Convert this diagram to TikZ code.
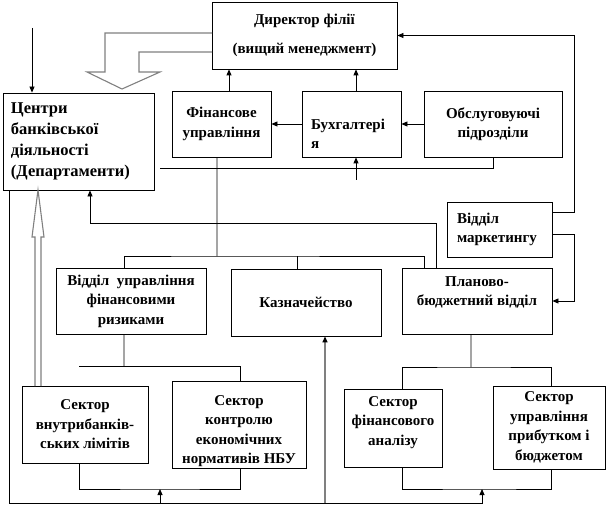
\documentclass[tikz,border=0pt]{standalone}
\usepackage{fontspec}
\setmainfont{Liberation Serif}
\usetikzlibrary{arrows.meta}
\definecolor{grl}{RGB}{128,128,128}
\begin{document}
\begin{tikzpicture}[x=1bp,y=-1bp,
  box/.style={draw,line width=0.8bp,inner sep=2bp,align=center,
    font=\fontsize{15bp}{19.5bp}\selectfont\bfseries},
  ln/.style={line width=0.8bp},
  arr/.style={ln,-{Triangle[length=6bp,width=5bp]}},
  hollow/.style={draw=grl,line width=1.1bp}]
\useasboundingbox (0,0) rectangle (612,513);
% boxes
\node[box,minimum width=185bp,minimum height=67bp] (dir) at (304.5,35.5) {Директор філії\\[9bp](вищий менеджмент)};
\node[box,minimum width=151bp,minimum height=97bp,align=left,text width=135bp,
  font=\fontsize{16.5bp}{21bp}\selectfont\bfseries] (cent) at (78.5,141.5) {Центри\\банківської\\діяльності\\(Департаменти)};
\node[box,minimum width=99bp,minimum height=66bp] (fin) at (221.5,124) {Фінансове\\управління};
\node[box,minimum width=99bp,minimum height=66bp,align=left,text width=81bp] (bux) at (351.5,124) {\rule{0pt}{30bp}Бухгалтері\\я};
\node[box,minimum width=138bp,minimum height=66bp] (obs) at (493,124) {Обслуговуючі\\підрозділи};
\node[box,minimum width=105bp,minimum height=55bp,align=left,text width=85bp] (mark) at (499.5,229.5) {Відділ\\маркетингу};
\node[box,minimum width=150bp,minimum height=66bp] (plan) at (477,301) {Планово-\\бюджетний відділ\rule[-20bp]{0pt}{1bp}};
\node[box,minimum width=150bp,minimum height=67bp] (kazn) at (306,302.5) {Казначейство};
\node[box,minimum width=150bp,minimum height=66bp] (vidd) at (131,301) {Відділ\ \ управління\\фінансовими\\ризиками};
\node[box,minimum width=126bp,minimum height=77bp] (svn) at (85,424.5) {Сектор\\внутрибанків-\\ських лімітів};
\node[box,minimum width=134bp,minimum height=78bp] (sko) at (239,425) {\rule{0pt}{22bp}Сектор\\контролю\\економічних\\нормативів НБУ};
\node[box,minimum width=98bp,minimum height=78bp] (sfa) at (393,428) {Сектор\\фінансового\\аналізу\rule[-14bp]{0pt}{1bp}};
\node[box,minimum width=112bp,minimum height=83bp] (sup) at (549,427.5) {Сектор\\управління\\прибутком і\\бюджетом};
% helper coordinates
\coordinate (c5) at (160,168);
\coordinate (c6) at (356,180);
\coordinate (c11) at (32,28);
\coordinate (j1) at (217,256);
\coordinate (j2) at (90,223);
\coordinate (j3) at (124,366);
\coordinate (j3l) at (79,366);
\coordinate (j4) at (471,367);
\coordinate (bL) at (160,489);
\coordinate (bR) at (482,489);
\coordinate (g1) at (325,503);
% top connectors
\draw[arr] ([xshift=7.5bp]fin.north) -- ([xshift=7.5bp]fin.north |- dir.south);
\draw[arr] ([xshift=4.5bp]bux.north) -- ([xshift=4.5bp]bux.north |- dir.south);
\draw[arr] (bux.west) -- (fin.east);
\draw[arr] (obs.west) -- (bux.east);
\draw[ln] (obs.south) |- (c5);
\draw[arr] (c6) -- (c6 |- bux.south);
\draw[arr] ([yshift=17.5bp]mark.east) -- ++(22,0) |- (dir.east);
\draw[arr] ([yshift=-4.5bp]mark.east) -- ++(22,0) |- (plan.east);
\draw[arr] (c11) -- (c11 |- cent.north);
% middle connectors
\draw[ln] ([xshift=-4.5bp]fin.south) -- (j1);
\draw[ln] ([xshift=-7bp]vidd.north) |- (j1) -| ([xshift=-53bp]plan.north);
\draw[ln] ([xshift=-9bp]kazn.north) -- ([xshift=-9bp]kazn.north |- j1);
\draw[arr] ([xshift=-41bp]plan.north) |- (j2) -- (j2 |- cent.south);
% lower connectors
\draw[ln] ([xshift=-7bp]vidd.south) -- (j3);
\draw[ln] (j3l) -| ([xshift=1bp]sko.north);
\draw[ln] ([xshift=-6bp]svn.south) |- (bL) -| ([xshift=1bp]sko.south);
\draw[ln] ([xshift=-6bp]plan.south) -- (j4);
\draw[ln] ([xshift=9bp]sfa.north) |- (j4) -| ([xshift=2bp]sup.north);
\draw[ln] ([xshift=9bp]sfa.south) |- (bR) -| ([xshift=2bp]sup.south);
% bottom loop
\draw[arr] ([xshift=-69.5bp]cent.south) |- ([yshift=-14bp]bR) -- (bR);
\draw[arr] ([yshift=-14bp]bL) -- (bL);
\draw[draw=grl,line width=1.3bp,-{Triangle[length=6bp,width=5bp,black]}] (g1) -- (g1 |- kazn.south);
% hollow arrows
\draw[hollow] (35,386) -- (35,237) -- (32,237) -- (38,190) -- (44,237) -- (41,237) -- (41,386);
\draw[hollow] (212,33) -- (105,33) -- (105,72) -- (87,72) -- (122,89) -- (160,72) -- (139,72) -- (139,52) -- (212,52);
\end{tikzpicture}
\end{document}
